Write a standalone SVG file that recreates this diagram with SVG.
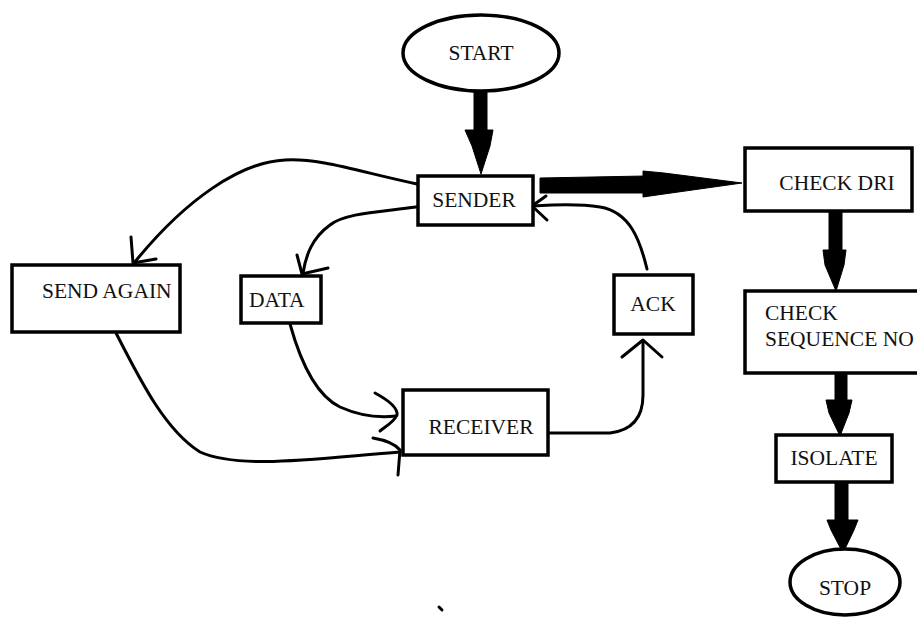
<svg xmlns="http://www.w3.org/2000/svg" width="917" height="621" viewBox="0 0 917 621">
<style>
.box{fill:#fff;stroke:#000;stroke-width:3.5}
.lbl{font-family:'Liberation Serif','Times New Roman','DejaVu Serif',serif;font-size:21.5px;fill:#111}
.c{fill:none;stroke:#000;stroke-width:3;stroke-linecap:round;stroke-linejoin:round}
.thick{fill:#000;stroke:#000;stroke-width:1}
</style>
<rect width="917" height="621" fill="#fff"/>
<g id="connectors">
  <rect class="thick" x="474" y="90" width="13" height="42"/>
  <polygon class="thick" points="465,130 493,130 490,146 481,174 472,146"/>
  <polygon class="thick" points="540,178 645,176 645,193 540,193"/>
  <polygon class="thick" points="643,171 664,173 742,183 664,194 643,197"/>
  <rect class="thick" x="829" y="210" width="13" height="42"/>
  <polygon class="thick" points="823,250 846,250 844,265 836,291 825,265"/>
  <rect class="thick" x="835" y="372" width="12" height="30"/>
  <polygon class="thick" points="826,400 852,400 849,413 840,436 829,413"/>
  <rect class="thick" x="835" y="481" width="13" height="41"/>
  <polygon class="thick" points="827,520 858,520 854,530 843,553 831,530"/>
  <path class="c" d="M417,184 C360,172 320,158 285,160 C240,162 185,200 134,263"/>
  <path class="c" d="M131,237 L133,263 L156,259"/>
  <path class="c" d="M416,207 C380,212 345,213 330,225 C312,238 306,255 303,273"/>
  <path class="c" d="M297,255 L302,274 L328,268"/>
  <path class="c" d="M290,324 C300,360 315,395 340,407 C360,416 378,418 396,416"/>
  <path class="c" d="M375,393 C388,400 398,408 397,415 C394,422 385,427 380,431"/>
  <path class="c" d="M116,333 C140,380 165,430 200,452 C240,470 320,458 400,452"/>
  <path class="c" d="M373,438 C385,440 395,444 400,450 L398,475"/>
  <path class="c" d="M549,433 L610,433 C635,430 643,415 643,395 L643,341"/>
  <path class="c" d="M622,357 L643,340 L662,357"/>
  <path class="c" d="M647,269 C640,240 630,212 600,207 C575,203 550,205 532,206"/>
  <path class="c" d="M546,196 L532,206 L547,220"/>
  <path class="c" d="M439,607 L442,610"/>
</g>
<g id="start">
  <ellipse class="box" cx="481" cy="53" rx="78" ry="38"/>
  <text class="lbl" x="481" y="60" text-anchor="middle">START</text>
</g>
<g id="sender">
  <rect class="box" x="418" y="176" width="115" height="49"/>
  <text class="lbl" x="474" y="207" text-anchor="middle">SENDER</text>
</g>
<g id="check-dri">
  <rect class="box" x="745" y="148" width="167" height="63"/>
  <text class="lbl" x="837" y="190" text-anchor="middle">CHECK DRI</text>
</g>
<g id="send-again">
  <rect class="box" x="12" y="265" width="168" height="67"/>
  <text class="lbl" x="42" y="298">SEND AGAIN</text>
</g>
<g id="data">
  <rect class="box" x="241" y="276" width="80" height="47"/>
  <text class="lbl" x="249" y="307">DATA</text>
</g>
<g id="ack">
  <rect class="box" x="614" y="275" width="79" height="59"/>
  <text class="lbl" x="653" y="311" text-anchor="middle">ACK</text>
</g>
<g id="check-seq">
  <rect class="box" x="745" y="291" width="180" height="82"/>
  <text class="lbl" x="765" y="320">CHECK</text>
  <text class="lbl" x="765" y="346">SEQUENCE NO</text>
</g>
<g id="receiver">
  <rect class="box" x="403" y="390" width="145" height="65"/>
  <text class="lbl" x="481" y="434" text-anchor="middle">RECEIVER</text>
</g>
<g id="isolate">
  <rect class="box" x="776" y="435" width="116" height="47"/>
  <text class="lbl" x="834" y="465" text-anchor="middle">ISOLATE</text>
</g>
<g id="stop">
  <ellipse class="box" cx="845" cy="582" rx="55" ry="33"/>
  <text class="lbl" x="845" y="595" text-anchor="middle">STOP</text>
</g>
</svg>
